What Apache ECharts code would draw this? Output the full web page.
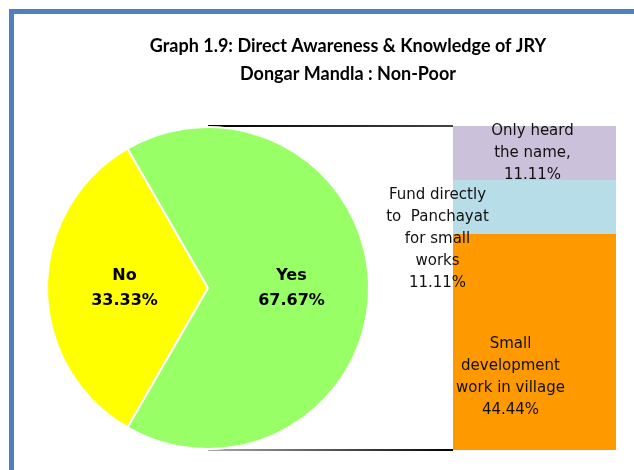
<!DOCTYPE html>
<html>
<head>
<meta charset="utf-8">
<script src="https://cdn.jsdelivr.net/npm/echarts@6/dist/echarts.min.js"></script>
<style>
  html, body { margin: 0; padding: 0; background: #fff; }
  #chart { width: 634px; height: 470px; }
</style>
</head>
<body>
<div id="chart"></div>
<script>
const pieNames = ['No', 'Yes'];
const pieValues = [33.33, 66.67];
const pieLabels = ['33.33%', '67.67%'];
const pieColors = ['#ffff00', '#99ff66'];

const barNames = ['Small\ndevelopment\nwork in village', 'Fund directly\nto  Panchayat\nfor small\nworks', 'Only heard\nthe name,'];
const barValues = [44.44, 11.11, 11.11];
const barColors = ['#ff9900', '#b7dde8', '#ccc1da'];
const barLabelOffsets = [[-24, 35], [-97, 32], [-2, 0]];

const pieCenter = [208, 288];
const pieRadius = 161;
const gridLeft = 453;
const total = barValues.reduce((a, b) => a + b, 0);

const chart = echarts.init(document.getElementById('chart'));
const labelFont = '"DejaVu Sans", sans-serif';

chart.setOption({
  animation: false,
  title: {
    text: 'Graph 1.9: Direct Awareness & Knowledge of JRY\nDongar Mandla : Non-Poor',
    left: 343, top: 27, textAlign: 'center',
    textStyle: { fontFamily: 'Lato', fontWeight: 'bold', fontSize: 18, lineHeight: 28, color: '#000' }
  },
  grid: { left: gridLeft, top: 126, width: 163, height: 324 },
  xAxis: { type: 'category', data: [''], show: false },
  yAxis: { type: 'value', min: 0, max: total, show: false },
  series: [
    ...barValues.map((v, i) => ({
      type: 'bar', stack: 'jry', barWidth: '100%', name: barNames[i],
      data: [v],
      itemStyle: { color: barColors[i] },
      label: {
        show: true, position: 'inside', offset: barLabelOffsets[i],
        formatter: () => barNames[i] + '\n' + v.toFixed(2) + '%',
        fontFamily: labelFont, fontSize: 15, lineHeight: 22, color: '#111'
      }
    })),
    {
      type: 'pie', center: pieCenter, radius: pieRadius,
      startAngle: 240, clockwise: true,
      data: pieNames.map((n, i) => ({ name: n, value: pieValues[i], itemStyle: { color: pieColors[i] } })),
      itemStyle: { borderColor: '#fff', borderWidth: 2 },
      label: {
        position: 'inside',
        formatter: p => p.name + '\n' + pieLabels[p.dataIndex],
        fontFamily: labelFont, fontWeight: 'bold', fontSize: 16, lineHeight: 25, color: '#000'
      },
      labelLine: { show: false }
    }
  ]
});

// connector lines from pie to top and bottom of the bar
const yTop = chart.convertToPixel({ yAxisIndex: 0 }, total);
const yBot = chart.convertToPixel({ yAxisIndex: 0 }, 0);
const grad = (a, b) => new echarts.graphic.LinearGradient(0, 0, 1, 0, [{ offset: 0, color: a }, { offset: 1, color: b }]);
chart.setOption({
  graphic: [
    { type: 'rect', shape: { x: 9, y: 9, width: 5, height: 470 }, style: { fill: '#4f81bd' } },
    { type: 'rect', shape: { x: 9, y: 9, width: 640, height: 5 }, style: { fill: '#4f81bd' } },
    { type: 'line', shape: { x1: pieCenter[0], y1: yTop, x2: gridLeft, y2: yTop }, style: { stroke: grad('#000', '#444'), lineWidth: 2 } },
    { type: 'line', shape: { x1: pieCenter[0], y1: yBot, x2: gridLeft, y2: yBot }, style: { stroke: grad('#aaa', '#000'), lineWidth: 2 } }
  ]
});
</script>
</body>
</html>
